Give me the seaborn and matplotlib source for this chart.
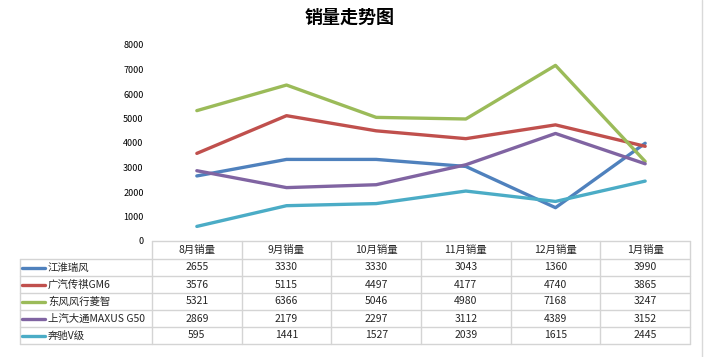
import numpy as np
import pandas as pd
import matplotlib
matplotlib.use('Agg')
import matplotlib.pyplot as plt
import seaborn as sns

sns.set_style('white')
plt.rcParams['font.family'] = ['Noto Sans CJK SC', 'DejaVu Sans']
plt.rcParams['axes.unicode_minus'] = False

# 数据
months = ['8月销量', '9月销量', '10月销量', '11月销量', '12月销量', '1月销量']
models = ['江淮瑞风', '广汽传祺GM6', '东风风行菱智', '上汽大通MAXUS G50', '奔驰V级']
jac = [2655, 3330, 3330, 3043, 1360, 3990]
gac = [3576, 5115, 4497, 4177, 4740, 3865]
dongfeng = [5321, 6366, 5046, 4980, 7168, 3247]
maxus = [2869, 2179, 2297, 3112, 4389, 3152]
benz = [595, 1441, 1527, 2039, 1615, 2445]
colors = ['#4F81BD', '#C0504D', '#9BBB59', '#8064A2', '#4BACC6']

series = [jac, gac, dongfeng, maxus, benz]
rows = []
for name, vals in zip(models, series):
    for i, v in enumerate(vals):
        rows.append({'month': i, 'label': months[i], 'model': name, 'sales': v})
df = pd.DataFrame(rows)

W, H = 705, 357
fig = plt.figure(figsize=(W / 100, H / 100), dpi=100)

def px(x0, y0, x1, y1):
    return [x0 / W, 1 - y1 / H, (x1 - x0) / W, (y1 - y0) / H]

# 折线区
ax = fig.add_axes(px(152, 45, 690, 241))
sns.lineplot(data=df, x='month', y='sales', hue='model', hue_order=models,
             palette=colors, linewidth=2.4, legend=False, ax=ax)
ax.set_xlim(-0.5, len(months) - 0.5)
ax.set_ylim(0, 8000)
ax.set_yticks(range(0, 8001, 1000))
ax.tick_params(axis='y', labelsize=6.5, length=0, pad=6, labelcolor='black')
ax.set_xticks([])
ax.set_xlabel('')
ax.set_ylabel('')
for s in ax.spines.values():
    s.set_visible(False)

fig.text(350 / W, 1 - 17 / H, '销量走势图', ha='center', va='center',
         fontsize=13, fontweight='bold', color='black')

# 数据表
tx = fig.add_axes([0, 0, 1, 1])
tx.set_xlim(0, W)
tx.set_ylim(H, 0)
tx.axis('off')
grid = '#D4D4D4'
col_x = np.linspace(152, 690, len(months) + 1)
row_y = [241, 259, 276, 293, 310, 327, 344]
left = 20
# 横线
tx.plot([col_x[0], col_x[-1]], [row_y[0], row_y[0]], color=grid, lw=1)
for y in row_y[1:]:
    tx.plot([left, col_x[-1]], [y, y], color=grid, lw=1)
# 竖线
tx.plot([left, left], [row_y[1], row_y[-1]], color=grid, lw=1)
for x in col_x:
    tx.plot([x, x], [row_y[0], row_y[-1]], color=grid, lw=1)

for j, m in enumerate(months):
    cx = (col_x[j] + col_x[j + 1]) / 2
    tx.text(cx, (row_y[0] + row_y[1]) / 2, m, ha='center', va='center', fontsize=7.5)
for i, (name, vals) in enumerate(zip(models, series)):
    cy = (row_y[i + 1] + row_y[i + 2]) / 2
    tx.plot([22, 45], [cy, cy], color=colors[i], lw=2.4, solid_capstyle='round')
    tx.text(48, cy, name, ha='left', va='center', fontsize=7.5)
    for j, v in enumerate(vals):
        cx = (col_x[j] + col_x[j + 1]) / 2
        tx.text(cx, cy, str(v), ha='center', va='center', fontsize=7.5)

# 右侧表格网格线
tx.plot([702, 702], [0, H], color='#D9D9D9', lw=1)

fig.savefig('out.png', dpi=100, facecolor='white')
